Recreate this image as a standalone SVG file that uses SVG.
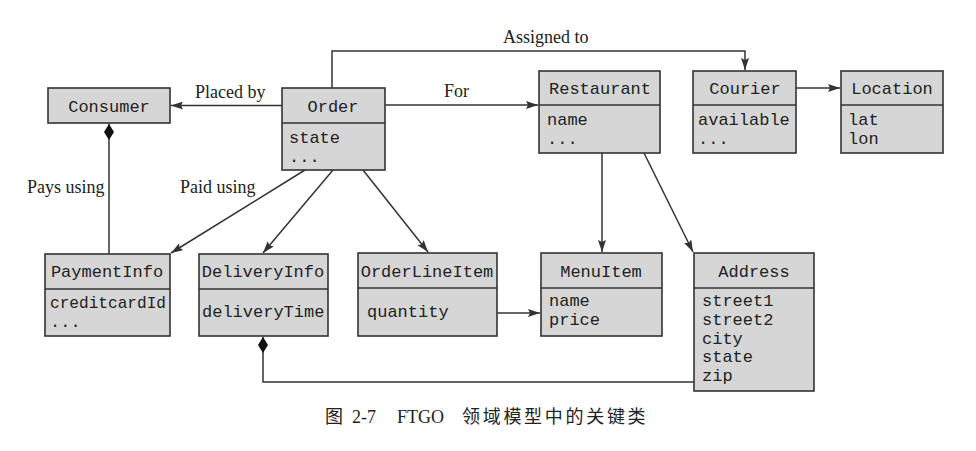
<svg xmlns="http://www.w3.org/2000/svg" width="976" height="451" viewBox="0 0 976 451">
<style>
.box{fill:#d6d6d6;stroke:#333;stroke-width:1.6}
.div{stroke:#333;stroke-width:1.6}
.m{font-family:"Liberation Mono","DejaVu Sans Mono",monospace;font-size:17px;fill:#222}
.c{text-anchor:middle}
.lbl{font-family:"Liberation Serif","Times New Roman",serif;font-size:18px;fill:#222}
.ln{fill:none;stroke:#333;stroke-width:1.5}
.cap{font-family:"Liberation Serif","Noto Sans CJK SC",serif;font-size:18px;fill:#222}
</style>
<defs>
<marker id="ah" viewBox="0 0 12 8" refX="12" refY="4" markerWidth="12" markerHeight="8" markerUnits="userSpaceOnUse" orient="auto">
<path d="M0,0 L12,4 L0,8 L2,4 Z" fill="#333"/>
</marker>
<marker id="dm" viewBox="0 0 16 10" refX="0" refY="5" markerWidth="16" markerHeight="10" markerUnits="userSpaceOnUse" orient="auto">
<path d="M0,5 L8,0 L16,5 L8,10 Z" fill="#111"/>
</marker>
</defs>
<rect width="976" height="451" fill="#fff"/>
<g id="connectors">
<line class="ln" x1="282" y1="105.5" x2="171" y2="105.5" marker-end="url(#ah)"/>
<line class="ln" x1="385" y1="105" x2="538" y2="105" marker-end="url(#ah)"/>
<polyline class="ln" points="332,88 332,51 745,51 745,70" marker-end="url(#ah)"/>
<line class="ln" x1="796" y1="88" x2="840" y2="88" marker-end="url(#ah)"/>
<line class="ln" x1="109" y1="124" x2="109" y2="254" marker-start="url(#dm)"/>
<line class="ln" x1="305" y1="170" x2="171" y2="253" marker-end="url(#ah)"/>
<line class="ln" x1="333" y1="170" x2="263" y2="253" marker-end="url(#ah)"/>
<line class="ln" x1="363" y1="170" x2="428" y2="252" marker-end="url(#ah)"/>
<line class="ln" x1="602" y1="153" x2="602" y2="252" marker-end="url(#ah)"/>
<line class="ln" x1="644" y1="153" x2="693" y2="252" marker-end="url(#ah)"/>
<line class="ln" x1="497" y1="313" x2="540" y2="313" marker-end="url(#ah)"/>
<polyline class="ln" points="263,337 263,382 694,382" marker-start="url(#dm)"/>
<text class="lbl" x="195" y="98">Placed by</text>
<text class="lbl" x="444" y="97">For</text>
<text class="lbl" x="503" y="43">Assigned to</text>
<text class="lbl" x="27" y="193">Pays using</text>
<text class="lbl" x="180" y="193">Paid using</text>
</g>
<g id="Consumer">
<rect class="box" x="48" y="88" width="122" height="35"/>
<text class="m c" x="109" y="112">Consumer</text>
</g>
<g id="Order">
<rect class="box" x="282" y="88" width="103" height="82"/>
<line class="div" x1="282" y1="123" x2="385" y2="123"/>
<text class="m c" x="333" y="112">Order</text>
<text class="m" x="289" y="143">state</text>
<text class="m" x="289" y="162">...</text>
</g>
<g id="Restaurant">
<rect class="box" x="539" y="71" width="121" height="82"/>
<line class="div" x1="539" y1="105" x2="660" y2="105"/>
<text class="m c" x="600" y="94">Restaurant</text>
<text class="m" x="547" y="125">name</text>
<text class="m" x="547" y="144">...</text>
</g>
<g id="Courier">
<rect class="box" x="693" y="71" width="103" height="82"/>
<line class="div" x1="693" y1="105" x2="796" y2="105"/>
<text class="m c" x="745" y="94">Courier</text>
<text class="m" x="698" y="125">available</text>
<text class="m" x="698" y="144">...</text>
</g>
<g id="Location">
<rect class="box" x="841" y="71" width="102" height="82"/>
<line class="div" x1="841" y1="105" x2="943" y2="105"/>
<text class="m c" x="892" y="94">Location</text>
<text class="m" x="848" y="125">lat</text>
<text class="m" x="848" y="144">lon</text>
</g>
<g id="PaymentInfo">
<rect class="box" x="45" y="254" width="125" height="82"/>
<line class="div" x1="45" y1="289" x2="170" y2="289"/>
<text class="m c" x="107" y="277">PaymentInfo</text>
<text class="m" x="50" y="308" textLength="116" lengthAdjust="spacingAndGlyphs">creditcardId</text>
<text class="m" x="50" y="327">...</text>
</g>
<g id="DeliveryInfo">
<rect class="box" x="199" y="254" width="129" height="82"/>
<line class="div" x1="199" y1="289" x2="328" y2="289"/>
<text class="m c" x="263" y="277">DeliveryInfo</text>
<text class="m" x="202" y="317">deliveryTime</text>
</g>
<g id="OrderLineItem">
<rect class="box" x="358" y="253" width="139" height="83"/>
<line class="div" x1="358" y1="288" x2="497" y2="288"/>
<text class="m c" x="427" y="277">OrderLineItem</text>
<text class="m" x="367" y="317">quantity</text>
</g>
<g id="MenuItem">
<rect class="box" x="541" y="253" width="121" height="83"/>
<line class="div" x1="541" y1="288" x2="662" y2="288"/>
<text class="m c" x="601" y="277">MenuItem</text>
<text class="m" x="549" y="306">name</text>
<text class="m" x="549" y="325">price</text>
</g>
<g id="Address">
<rect class="box" x="694" y="253" width="120" height="138"/>
<line class="div" x1="694" y1="288" x2="814" y2="288"/>
<text class="m c" x="754" y="277">Address</text>
<text class="m" x="702" y="306">street1</text>
<text class="m" x="702" y="325">street2</text>
<text class="m" x="702" y="344">city</text>
<text class="m" x="702" y="362">state</text>
<text class="m" x="702" y="381">zip</text>
</g>
<text class="cap" y="423"><tspan x="325">图</tspan><tspan x="352">2-7</tspan><tspan x="397">FTGO</tspan><tspan x="462" letter-spacing="2.7">领域模型中的关键类</tspan></text>
</svg>
